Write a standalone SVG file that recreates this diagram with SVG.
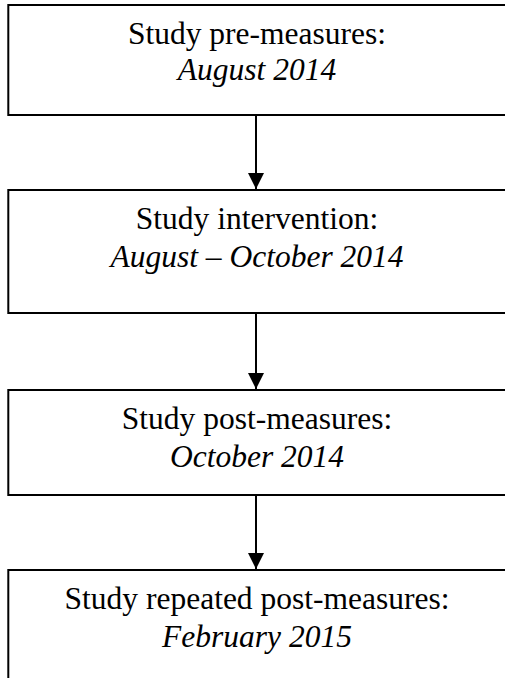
<svg xmlns="http://www.w3.org/2000/svg" width="505" height="678" viewBox="0 0 505 678">
<style>
.box{fill:#ffffff;stroke:#000000;stroke-width:2}
.t{font-family:"Liberation Serif","Times New Roman",serif;font-size:31.5px;fill:#000000;text-anchor:middle}
.i{font-style:italic}
.c{stroke:#000000;stroke-width:2;fill:none}
</style>
<defs>
<marker id="ah" markerUnits="userSpaceOnUse" markerWidth="16" markerHeight="17" refX="16" refY="8" orient="auto">
<path d="M0,0 L16,8 L0,16 Z" fill="#000000"/>
</marker>
</defs>
<rect width="505" height="678" fill="#ffffff"/>
<g id="connectors">
<line class="c" x1="256" y1="115" x2="256" y2="189" marker-end="url(#ah)"/>
<line class="c" x1="256" y1="313" x2="256" y2="389" marker-end="url(#ah)"/>
<line class="c" x1="256" y1="495" x2="256" y2="569" marker-end="url(#ah)"/>
</g>
<g id="node1">
<rect class="box" x="8.3" y="5" width="520" height="110"/>
<text class="t" x="257" y="44">Study pre-measures:</text>
<text class="t i" x="257" y="80">August 2014</text>
</g>
<g id="node2">
<rect class="box" x="8.3" y="190" width="520" height="123"/>
<text class="t" x="257" y="229">Study intervention:</text>
<text class="t i" x="257" y="267">August – October 2014</text>
</g>
<g id="node3">
<rect class="box" x="8.3" y="390" width="520" height="105"/>
<text class="t" x="257" y="429">Study post-measures:</text>
<text class="t i" x="257" y="467">October 2014</text>
</g>
<g id="node4">
<rect class="box" x="8.3" y="570" width="520" height="130"/>
<text class="t" x="257" y="609">Study repeated post-measures:</text>
<text class="t i" x="257" y="647">February 2015</text>
</g>
</svg>
